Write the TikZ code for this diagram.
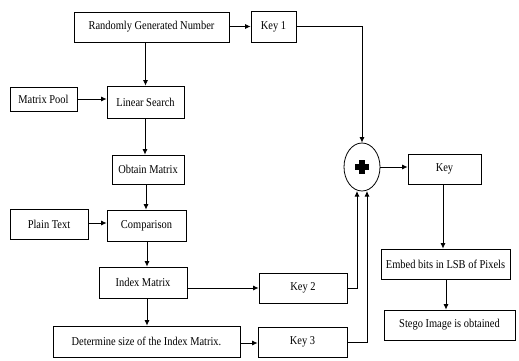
\documentclass[tikz,border=0pt]{standalone}
\usepackage{fontspec}
\setmainfont{Liberation Serif}[FakeStretch=0.87]
\usetikzlibrary{arrows.meta,shapes.geometric}
\tikzset{
  box/.style={draw, line width=0.8pt, inner sep=1pt, font=\fontsize{12}{14}\selectfont},
  arr/.style={line width=0.8pt, -{Latex[length=5.5pt,width=5pt]}},
  ln/.style={line width=0.8pt},
}
\newcommand{\bx}[6]{% name, x1, y1, x2, y2, text
  \node[box, minimum width={(#4-#2)*1pt}, minimum height={(#5-#3)*1pt}] (#1) at ({(#2+#4)/2},{(#3+#5)/2}) {#6};}
\begin{document}
\begin{tikzpicture}[x=1pt,y=-1pt]
\useasboundingbox (0,0) rectangle (519,360);
\bx{rand}{74}{12}{229}{42}{Randomly Generated Number}
\bx{key1}{251}{11}{296}{42}{Key 1}
\bx{pool}{10}{87}{77}{111}{Matrix Pool}
\bx{lin}{107}{86}{184}{118}{Linear Search}
\bx{obt}{112}{155}{184}{184}{Obtain Matrix}
\bx{plain}{10}{209}{88}{239}{Plain Text}
\bx{comp}{107}{210}{186}{241}{Comparison}
\bx{idx}{99}{267}{187}{298}{Index Matrix}
\bx{key2}{259}{273}{347}{303}{Key 2}
\bx{det}{53}{326}{240}{357}{Determine size of the Index Matrix.}
\bx{key3}{258}{327}{347}{357}{Key 3}
\bx{key}{408}{154}{481}{184}{Key}
\bx{emb}{381}{249}{510}{279}{Embed bits in LSB of Pixels}
\bx{steg}{384}{310}{515}{340}{Stego Image is obtained}
\node[draw, ellipse, line width=0.8pt, minimum width=36pt, minimum height=48pt, inner sep=0pt] (xor) at (362,167) {};
\fill (xor.center) ++(-7,-2.7) rectangle ++(14,5.4);
\fill (xor.center) ++(-2.7,-7) rectangle ++(5.4,14);
% connectors
\draw[arr] (rand.east |- key1.west) -- (key1.west);
\draw[arr] (rand.south -| lin.north) -- (lin.north);
\draw[arr] (pool.east) -- (pool.east -| lin.west);
\draw[arr] (lin.south -| 145,0) -- (obt.north -| 145,0);
\draw[arr] (obt.south -| 146,0) -- (comp.north -| 146,0);
\draw[arr] (plain.east |- 0,223) -- (comp.west |- 0,223);
\draw[arr] (comp.south -| 147,0) -- (idx.north -| 147,0);
\draw[arr] (idx.south -| 147,0) -- (det.north -| 147,0);
\draw[arr] (idx.east |- 0,288) -- (key2.west |- 0,288);
\draw[arr] (det.east |- 0,343) -- (key3.west |- 0,343);
\draw[arr] (key1.east |- 0,26) -| (xor.north);
\coordinate (k2c) at (357,191);
\coordinate (k3c) at (367,191);
\draw[arr] (key2.east |- 0,288) -| (k2c);
\draw[arr] (key3.east |- 0,342) -| (k3c);
\draw[arr] (xor.east) -- (key.west |- xor.east);
\draw[arr] (key.south -| 443,0) -- (emb.north -| 443,0);
\draw[arr] (emb.south -| 446,0) -- (steg.north -| 446,0);
\end{tikzpicture}
\end{document}
